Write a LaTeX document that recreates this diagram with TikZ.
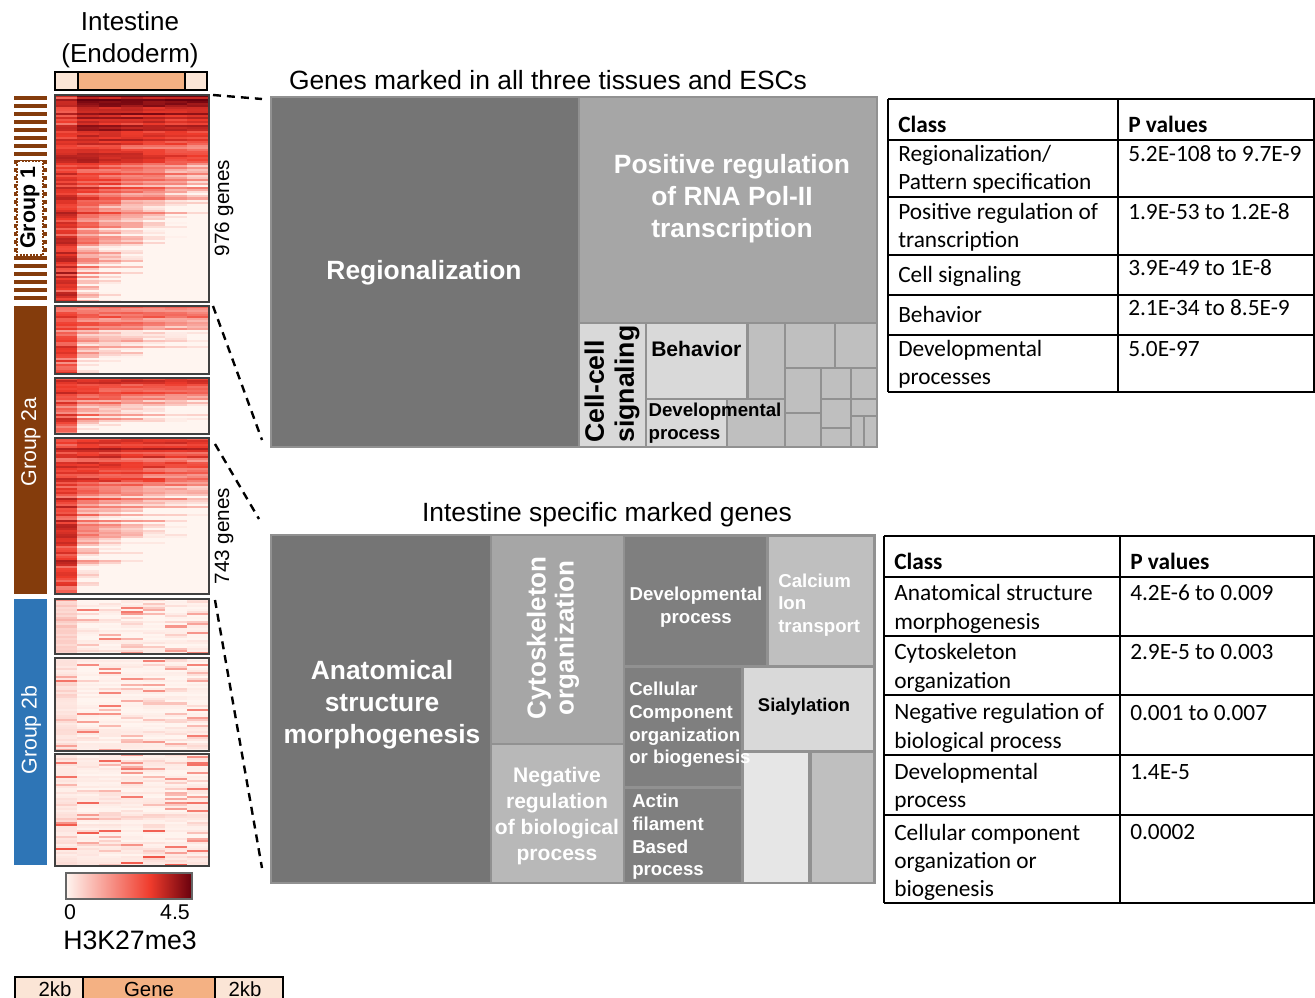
\documentclass[tikz,border=0pt]{standalone}
\usepackage{fontspec}
\setmainfont{Liberation Sans}
\newfontfamily\tabfont{Carlito}

\definecolor{hmlow}{RGB}{255,245,240}
\definecolor{hmmid}{RGB}{239,59,44}
\definecolor{hmhigh}{RGB}{103,0,13}
\definecolor{grpbrown}{RGB}{132,60,12}
\definecolor{grpblue}{RGB}{46,117,182}
\definecolor{flanklight}{RGB}{251,229,214}
\definecolor{genebody}{RGB}{244,177,131}
\definecolor{tmline}{RGB}{145,145,145}
\definecolor{tmdark}{RGB}{117,117,117}
\definecolor{tmdev}{RGB}{127,127,127}
\definecolor{tmmid}{RGB}{166,166,166}
\definecolor{tmneg}{RGB}{184,184,184}
\definecolor{tmpale}{RGB}{191,191,191}
\definecolor{tmlight}{RGB}{217,217,217}
\definecolor{tmwhitish}{RGB}{230,230,230}

\newcommand{\fs}[2]{\fontsize{#1}{#2}\selectfont}

\tikzset{
  lbl/.style={inner sep=0, font=\fs{19.5pt}{24pt}},
  grplbl/.style={inner sep=0, rotate=90, font=\fs{16pt}{19pt}},
  hmframe/.style={draw=black!75, line width=0.8pt},
  barseg/.style={draw=black, line width=1.4pt},
  zoomline/.style={dash pattern=on 6pt off 4.5pt, line width=1.8pt},
  tmbig/.style={inner sep=0, align=center, font=\fs{19.8pt}{24pt}\bfseries},
  tmmed/.style={inner sep=0, align=center, font=\fs{15.8pt}{19.5pt}\bfseries},
  tmsmall/.style={inner sep=0, align=left, font=\fs{14pt}{17pt}\bfseries},
  tabline/.style={line width=1.5pt},
  tabtxt/.style={inner sep=0, anchor=base west, align=left, font=\tabfont\fs{17.5pt}{21pt}},
  tabhead/.style={tabtxt, font=\tabfont\fs{17.5pt}{21pt}\bfseries}
}

% one block of the heatmap: ytop, ybot, first column level, top level, fade, speckle, gene spread
\newcommand{\heatblock}[7]{%
  \pgfmathtruncatemacro{\nrows}{(#2-#1)/2}%
  \pgfmathsetmacro{\rowh}{(#2-#1)/\nrows}%
  \foreach \hr in {1,...,\nrows}{%
    \pgfmathsetmacro{\gene}{rnd}%
    \pgfmathsetmacro{\rfrac}{(\hr-1)/\nrows}%
    \foreach \hc in {0,...,6}{%
      \pgfmathsetmacro{\hv}{max(0,min(1,(\hc==0)*(#3)+(\hc>0)*(#4-#5*\rfrac*(0.5+0.12*\hc))+#7*(\gene-0.5)+#7*0.4*(rnd-0.5)+#6*rnd^8))}%
      \pgfmathsetmacro{\pone}{min(100,\hv*182)}%
      \pgfmathsetmacro{\ptwo}{max(0,(\hv-0.55)*222)}%
      \colorlet{hmtmp}{hmmid!\pone!hmlow}%
      \fill[hmhigh!\ptwo!hmtmp] ({55+22*\hc},{#1+\rowh*(\hr-1)}) rectangle ++(22.3,{\rowh+0.3});%
    }%
  }%
  \draw[hmframe] (55,#1) rectangle (209,#2);%
}

\begin{document}
\begin{tikzpicture}[x=0.75pt, y=-0.75pt]
\useasboundingbox (0,0) rectangle (1315,998);
\clip (0,0) rectangle (1315,998);
\pgfmathsetseed{7}

% heading and gene bar
\node[lbl, align=center] (tissue) at (130,40) {Intestine\\(Endoderm)};
\filldraw[barseg, fill=flanklight] (55,72) rectangle (78,90);
\filldraw[barseg, fill=genebody] (78,72) rectangle (185,90);
\filldraw[barseg, fill=flanklight] (185,72) rectangle (207,90);

% heatmap blocks
\heatblock{95}{302}{0.6}{0.85}{1.3}{0}{0.35}
\heatblock{306}{374}{0.5}{0.5}{0.9}{0}{0.35}
\heatblock{378}{434}{0.5}{0.55}{0.8}{0}{0.35}
\heatblock{438}{594}{0.55}{0.65}{1.2}{0}{0.35}
\heatblock{599}{654}{0.1}{0.01}{0}{0.4}{0.06}
\heatblock{658}{751}{0.05}{0.01}{0}{0.35}{0.05}
\heatblock{754}{866}{0.04}{0.02}{0}{0.45}{0.05}

% group bars
\foreach \k in {0,...,25}
  \fill[grpbrown] (14,{96+8*\k}) rectangle (47,{100+8*\k});
\filldraw[fill=white, draw=grpbrown, densely dotted, line width=1.5pt] (17,161) rectangle (43,255);
\node[grplbl, font=\fs{16pt}{19pt}\bfseries] (grp1) at (30,208) {Group 1};
\fill[grpbrown] (14,306) rectangle (47,594);
\node[grplbl, text=white] (grp2a) at (31,442) {Group 2a};
\fill[grpblue] (14,599) rectangle (47,865);
\node[grplbl, text=white] (grp2b) at (31,730) {Group 2b};

\node[grplbl, font=\fs{15.5pt}{19pt}] (n976) at (224,208) {976 genes};
\node[grplbl, font=\fs{15.5pt}{19pt}] (n743) at (224,536) {743 genes};

% colour key
\shade[left color=hmlow, right color=hmmid] (66,873) rectangle (150,899);
\shade[left color=hmmid, right color=hmhigh] (150,873) rectangle (192,899);
\draw[draw=black!60, line width=0.8pt] (66,873) rectangle (192,899);
\node[inner sep=0, font=\fs{16pt}{19pt}] (key0) at (70,912) {0};
\node[inner sep=0, font=\fs{16pt}{19pt}] (key45) at (175,912) {4.5};
\node[lbl, font=\fs{20pt}{24pt}] (keyname) at (130,940) {H3K27me3};

% gene model
\filldraw[barseg, fill=flanklight] (15,977) rectangle (83,1020);
\filldraw[barseg, fill=genebody] (83,977) rectangle (215,1020);
\filldraw[barseg, fill=flanklight] (215,977) rectangle (283,1020);
\node[inner sep=0, anchor=base, font=\fs{15.3pt}{18pt}] (up2kb) at (55,996) {2kb};
\node[inner sep=0, anchor=base, font=\fs{15.3pt}{18pt}] (genebd) at (149,996) {Gene};
\node[inner sep=0, anchor=base, font=\fs{15.3pt}{18pt}] (dn2kb) at (245,996) {2kb};

% treemap of shared genes
\node[lbl, font=\fs{19.8pt}{24pt}] (tm1title) at (548,80) {Genes marked in all three tissues and ESCs};
\fill[tmline] (270,96) rectangle (878,448);
\fill[tmdark] (272,98) rectangle (578,446);
\fill[tmmid] (580,98) rectangle (876,322);
\fill[tmlight] (580,324) rectangle (645,446);
\fill[tmlight] (647,324) rectangle (746,398);
\fill[tmpale] (749,324) rectangle (784,398);
\fill[tmlight] (647,400) rectangle (726,446);
\fill[tmpale] (728,400) rectangle (784,446);
\foreach \xa/\ya/\xb/\yb in {786/324/834/367, 836/324/876/367, 786/369/820/412,
    822/369/850/398, 852/369/876/398, 786/414/820/446, 822/400/850/427,
    852/400/876/415, 822/429/850/446, 852/417/863/446, 865/417/876/446}
  \fill[tmpale] (\xa,\ya) rectangle (\xb,\yb);
\node[tmbig, text=white] (regio) at (424,273) {Regionalization};
\node[tmbig, text=white, font=\fs{19.8pt}{24pt}\bfseries] (posreg) at (732,199) {Positive regulation\\of RNA Pol-II\\transcription};
\node[tmbig, rotate=90, align=left, anchor=west, font=\fs{20pt}{22.5pt}\bfseries] (cellsig) at (612,443) {Cell-cell\\signaling};
\node[tmmed, anchor=base west] (behav) at (651,357) {Behavior};
\node[tmsmall] (devproc1) at (715,423) {Developmental\\process};

% treemap of intestine specific genes
\node[lbl, font=\fs{19.8pt}{24pt}] (tm2title) at (607,515) {Intestine specific marked genes};
\fill[tmline] (270,534) rectangle (876,884);
\fill[tmdark] (272,536) rectangle (490,882);
\fill[tmmid] (492,536) rectangle (623,743);
\fill[tmneg] (492,745) rectangle (623,882);
\fill[tmdev] (625,537) rectangle (766,665);
\fill[tmpale] (769,537) rectangle (873,665);
\fill[tmdev] (625,668) rectangle (741,786);
\fill[tmlight] (744,668) rectangle (873,750);
\fill[tmdev] (625,789) rectangle (741,882);
\fill[tmwhitish] (744,753) rectangle (808,882);
\fill[tmpale] (812,753) rectangle (873,882);
\node[tmbig, text=white] (anat) at (382,705) {Anatomical\\structure\\morphogenesis};
\node[tmbig, rotate=90, text=white, font=\fs{19.5pt}{21pt}\bfseries] (cyto) at (553,638) {Cytoskeleton\\organization};
\node[tmmed, text=white] (negreg) at (557,816) {Negative\\regulation\\of biological\\process};
\node[tmsmall, align=center, text=white] (devproc2) at (696,607) {Developmental\\process};
\node[tmsmall, text=white, anchor=west] (calcium) at (778,605) {Calcium\\Ion\\transport};
\node[tmsmall, text=white, anchor=west] (cellcomp) at (629,725) {Cellular\\Component\\organization\\or biogenesis};
\node[tmsmall, font=\fs{13.8pt}{17pt}\bfseries] (sialyl) at (804,707) {Sialylation};
\node[tmsmall, text=white, anchor=west] (actin) at (632,837) {Actin\\filament\\Based\\process};

% zoom lines from heatmap blocks to treemaps
\coordinate (blk1top) at (213,95);
\coordinate (tm1nw) at (262,99);
\coordinate (blk2top) at (213,306);
\coordinate (tm1sw) at (262,440);
\coordinate (blk4top) at (215,444);
\coordinate (tm2nw) at (259,519);
\coordinate (blk5top) at (215,600);
\coordinate (tm2sw) at (262,868);
\draw[zoomline] (blk1top) -- (tm1nw);
\draw[zoomline] (blk2top) -- (tm1sw);
\draw[zoomline] (blk4top) -- (tm2nw);
\draw[zoomline] (blk5top) -- (tm2sw);

% table for shared genes (multi-line cells sit on their last baseline)
\foreach \yy in {99,140,197,255,295,335,392}
  \draw[tabline] (888,\yy) -- (1320,\yy);
\draw[tabline] (888,99) -- (888,392);
\draw[tabline] (1118,99) -- (1118,392);
\draw[tabline] (1314,99) -- (1314,392);
\node[tabhead] (t1c) at (898,133) {Class};
\node[tabhead] (t1p) at (1128,133) {P values};
\node[tabtxt] (t1r1) at (898,190) {Regionalization/\\Pattern specification};
\node[tabtxt] (t1v1) at (1128,162) {5.2E-108 to 9.7E-9};
\node[tabtxt] (t1r2) at (898,248) {Positive regulation of\\transcription};
\node[tabtxt] (t1v2) at (1128,220) {1.9E-53 to 1.2E-8};
\node[tabtxt] (t1r3) at (898,283) {Cell signaling};
\node[tabtxt] (t1v3) at (1128,276) {3.9E-49 to 1E-8};
\node[tabtxt] (t1r4) at (898,323) {Behavior};
\node[tabtxt] (t1v4) at (1128,316) {2.1E-34 to 8.5E-9};
\node[tabtxt] (t1r5) at (898,385) {Developmental\\processes};
\node[tabtxt] (t1v5) at (1128,357) {5.0E-97};

% table for intestine specific genes
\foreach \yy in {536,577,636,695,755,815,903}
  \draw[tabline] (884,\yy) -- (1320,\yy);
\draw[tabline] (884,536) -- (884,903);
\draw[tabline] (1120,536) -- (1120,903);
\draw[tabline] (1314,536) -- (1314,903);
\node[tabhead] (t2c) at (894,570) {Class};
\node[tabhead] (t2p) at (1130,570) {P values};
\node[tabtxt] (t2r1) at (894,629) {Anatomical structure\\morphogenesis};
\node[tabtxt] (t2v1) at (1130,601) {4.2E-6 to 0.009};
\node[tabtxt] (t2r2) at (894,688) {Cytoskeleton\\organization};
\node[tabtxt] (t2v2) at (1130,660) {2.9E-5 to 0.003};
\node[tabtxt] (t2r3) at (894,748) {Negative regulation of\\biological process};
\node[tabtxt] (t2v3) at (1130,720) {0.001 to 0.007};
\node[tabtxt] (t2r4) at (894,807) {Developmental\\process};
\node[tabtxt] (t2v4) at (1130,779) {1.4E-5};
\node[tabtxt] (t2r5) at (894,896) {Cellular component\\organization or\\biogenesis};
\node[tabtxt] (t2v5) at (1130,839) {0.0002};
\end{tikzpicture}
\end{document}
